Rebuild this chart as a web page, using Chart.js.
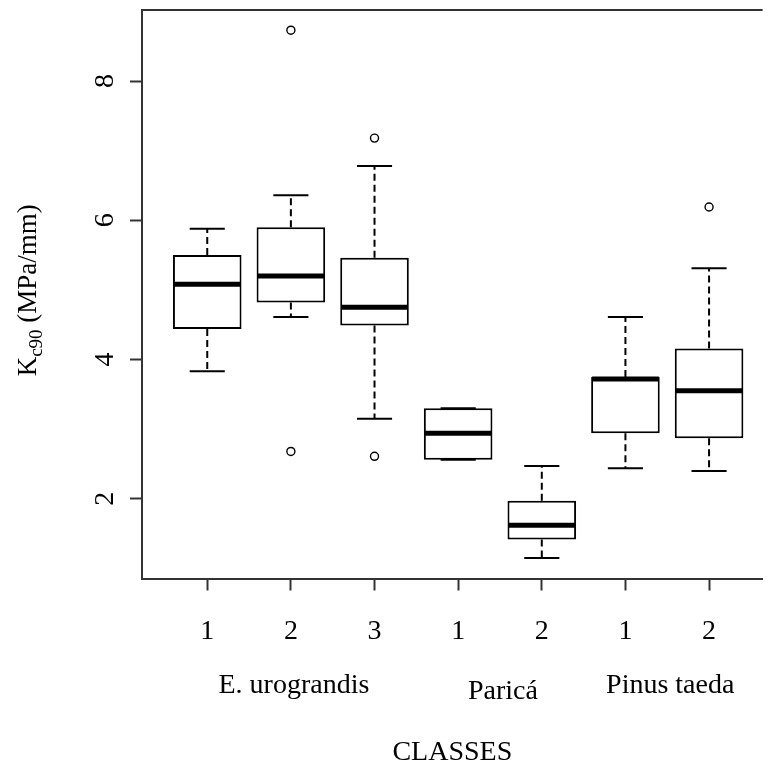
<!DOCTYPE html>
<html>
<head>
<meta charset="utf-8">
<script src="https://cdn.jsdelivr.net/npm/chart.js@4.4.1/dist/chart.umd.min.js"></script>
<style>
  html, body { margin: 0; padding: 0; background: #fff; overflow: hidden; }
  #wrap { width: 768px; height: 769px; }
</style>
</head>
<body>
<div id="wrap"><canvas id="c" width="768" height="769"></canvas></div>
<script>
// ---- data ----
const categories   = ['1', '2', '3', '1', '2', '1', '2'];
const groups       = ['E. urograndis', 'E. urograndis', 'E. urograndis', 'Paricá', 'Paricá', 'Pinus taeda', 'Pinus taeda'];
const whiskerLow   = [3.83, 4.61, 3.15, 2.56, 1.15, 2.44, 2.40];
const q1           = [4.44, 4.82, 4.49, 2.56, 1.415, 2.94, 2.87];
const median       = [5.08, 5.20, 4.75, 2.94, 1.62, 3.72, 3.55];
const q3           = [5.50, 5.90, 5.46, 3.30, 1.97, 3.75, 4.16];
const whiskerHigh  = [5.88, 6.36, 6.78, 3.30, 2.47, 4.61, 5.31];
const outliers     = [[], [8.73, 2.68], [7.18, 2.61], [], [], [], [6.19]];
const yTickValues  = [2, 4, 6, 8];
const xTitle = 'CLASSES';
const yTitleMain = 'K';
const yTitleSub = 'c90';
const yTitleRest = ' (MPa/mm)';

// ---- derived ----
const positions = categories.map((_, i) => i + 1);
const boxData = positions.map((p, i) => ({ x: p, y: [q1[i], q3[i]] }));
const outlierData = [];
outliers.forEach((arr, i) => arr.forEach(v => outlierData.push({ x: positions[i], y: v })));

const FONT = 'Liberation Serif, "Times New Roman", serif';
const BOX_HALF = 0.41, CAP_HALF = 0.21;

const framePlugin = {
  id: 'frameAndParts',
  afterDatasetsDraw(chart) {
    const { ctx, chartArea, scales: { x, y } } = chart;
    const line = (x1, y1, x2, y2) => { ctx.beginPath(); ctx.moveTo(x1, y1); ctx.lineTo(x2, y2); ctx.stroke(); };
    ctx.save();
    ctx.strokeStyle = '#000';
    positions.forEach((p, i) => {
      const cx = x.getPixelForValue(p);
      const cL = x.getPixelForValue(p - CAP_HALF), cR = x.getPixelForValue(p + CAP_HALF);
      const bL = x.getPixelForValue(p - BOX_HALF), bR = x.getPixelForValue(p + BOX_HALF);
      const yq1 = y.getPixelForValue(q1[i]), yq3 = y.getPixelForValue(q3[i]);
      const ylo = y.getPixelForValue(whiskerLow[i]), yhi = y.getPixelForValue(whiskerHigh[i]);
      ctx.lineWidth = 2;
      ctx.setLineDash([7, 4]);
      if (yhi < yq3) line(cx, yq3, cx, yhi);
      if (ylo > yq1) line(cx, yq1, cx, ylo);
      ctx.setLineDash([]);
      line(cL, yhi, cR, yhi);
      line(cL, ylo, cR, ylo);
      ctx.lineWidth = 5;
      const ym = y.getPixelForValue(median[i]);
      line(bL + 1, ym, bR - 1, ym);
    });
    // top frame line
    ctx.strokeStyle = '#333';
    ctx.lineWidth = 2;
    line(chartArea.left - 1, chartArea.top, chartArea.right, chartArea.top);
    ctx.restore();
  },
  afterDraw(chart) {
    const { ctx, chartArea, scales: { x } } = chart;
    ctx.save();
    ctx.fillStyle = '#000';
    // group labels
    ctx.font = '28px ' + FONT;
    ctx.textAlign = 'center';
    ctx.textBaseline = 'alphabetic';
    const seen = [];
    groups.forEach(g => { if (!seen.includes(g)) seen.push(g); });
    seen.forEach(g => {
      const ps = positions.filter((_, i) => groups[i] === g);
      const mid = ps.reduce((a, b) => a + b, 0) / ps.length;
      const drop = g === 'Paricá' ? 6 : 0;
      ctx.fillText(g, x.getPixelForValue(mid) + 3, chartArea.bottom + 114 + drop);
    });
    // y title with subscript
    const mainF = '27px ' + FONT, subF = '19px ' + FONT;
    ctx.font = mainF; const w1 = ctx.measureText(yTitleMain).width;
    ctx.font = subF;  const w2 = ctx.measureText(yTitleSub).width;
    ctx.font = mainF; const w3 = ctx.measureText(yTitleRest).width;
    const total = w1 + w2 + w3;
    const cy = (chartArea.top + chartArea.bottom) / 2 - 4;
    ctx.translate(36, cy);
    ctx.rotate(-Math.PI / 2);
    ctx.textAlign = 'left';
    let sx = -total / 2;
    ctx.font = mainF; ctx.fillText(yTitleMain, sx, 0); sx += w1;
    ctx.font = subF;  ctx.fillText(yTitleSub, sx, 6); sx += w2;
    ctx.font = mainF; ctx.fillText(yTitleRest, sx, 0);
    ctx.restore();
  }
};

new Chart(document.getElementById('c'), {
  type: 'bar',
  data: {
    datasets: [
      {
        type: 'bar',
        data: boxData,
        backgroundColor: '#ffffff',
        borderColor: '#000',
        borderWidth: 2,
        borderSkipped: false,
        categoryPercentage: 1,
        barPercentage: 0.82,
        grouped: false
      },
      {
        type: 'scatter',
        data: outlierData,
        pointStyle: 'circle',
        pointRadius: 4,
        pointBorderWidth: 1.4,
        pointBorderColor: '#000',
        pointBackgroundColor: 'rgba(0,0,0,0)'
      }
    ]
  },
  options: {
    responsive: false,
    animation: false,
    events: [],
    layout: { padding: { top: 10, left: 0, right: 0, bottom: 0 } },
    plugins: { legend: { display: false }, tooltip: { enabled: false } },
    scales: {
      x: {
        type: 'linear',
        offset: false,
        min: 0.22,
        max: 7.64,
        afterBuildTicks: s => { s.ticks = positions.map(v => ({ value: v })); },
        afterFit: s => { s.height = 190.5; s.paddingLeft = 0; s.paddingRight = 0; },
        ticks: {
          callback: (v) => categories[Math.round(v) - 1] ?? '',
          font: { family: FONT, size: 28 },
          color: '#000',
          padding: 24,
          maxRotation: 0, minRotation: 0, autoSkip: false
        },
        grid: { offset: false, drawOnChartArea: false, drawTicks: true, tickLength: 12, tickColor: '#333', tickWidth: 2, color: '#333' },
        border: { display: true, color: '#333', width: 2 },
        title: { display: true, text: xTitle, font: { family: FONT, size: 28 }, color: '#000', padding: { top: 0, bottom: 0 } }
      },
      y: {
        type: 'linear',
        min: 0.855,
        max: 9.02,
        afterBuildTicks: s => { s.ticks = yTickValues.map(v => ({ value: v })); },
        afterFit: s => { s.width = 142; s.paddingTop = 0; s.paddingBottom = 0; },
        ticks: {
          callback: v => String(v),
          font: { family: FONT, size: 28 },
          color: '#000',
          padding: 17,
          minRotation: 90, maxRotation: 90,
          crossAlign: 'center'
        },
        grid: { drawOnChartArea: false, drawTicks: true, tickLength: 12, tickColor: '#333', tickWidth: 2, color: '#333' },
        border: { display: true, color: '#333', width: 2 }
      }
    }
  },
  plugins: [framePlugin]
});
</script>
</body>
</html>
